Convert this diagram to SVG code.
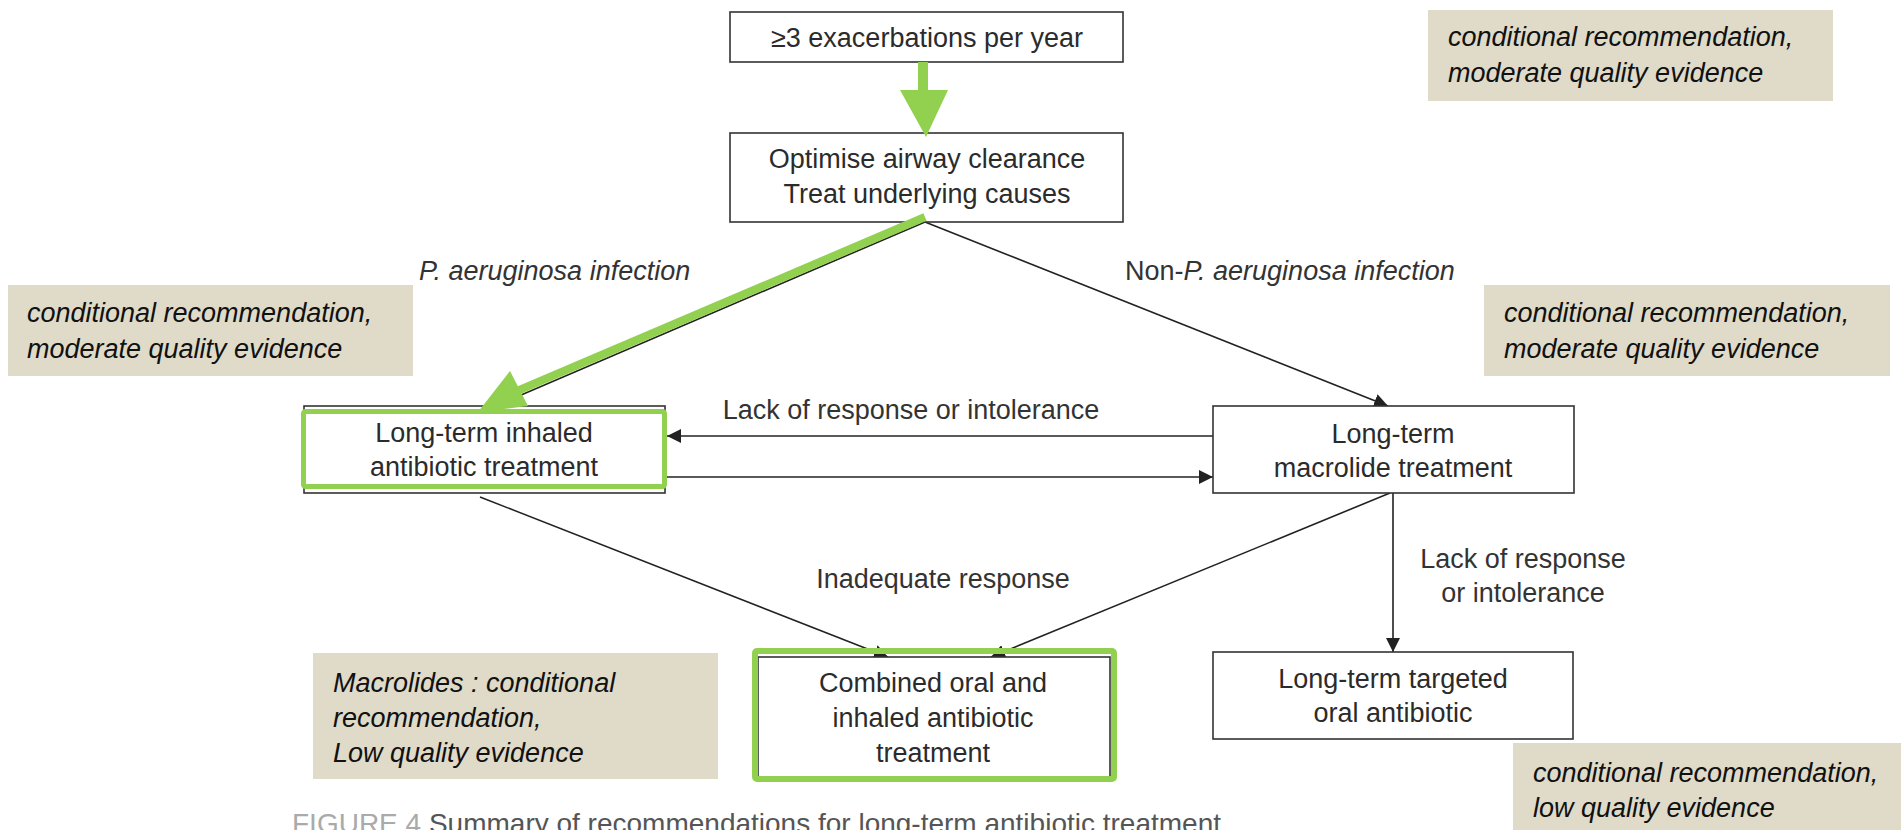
<svg xmlns="http://www.w3.org/2000/svg" width="1901" height="830" viewBox="0 0 1901 830">
<defs>
<style>
.box{fill:#fff;stroke:#333;stroke-width:1.6}
.t{font-family:"Liberation Sans",Arial,sans-serif;font-size:27px;fill:#2b2b2b;text-anchor:middle}
.lbl{font-family:"Liberation Sans",Arial,sans-serif;font-size:27px;fill:#333}
.it{font-style:italic}
.note{fill:#dfdbc8}
.nt{font-family:"Liberation Sans",Arial,sans-serif;font-style:italic;font-size:27px;fill:#111}
.conn{stroke:#222;stroke-width:1.6;fill:none}
.hl{fill:none;stroke:#92d050}
.hlf{fill:#92d050}
.cap{font-family:"Liberation Sans",Arial,sans-serif;font-size:28px;fill:#555}
</style>
<marker id="ah" viewBox="0 0 10 10" refX="10" refY="5" markerWidth="14" markerHeight="14" markerUnits="userSpaceOnUse" orient="auto"><path d="M0,0 L10,5 L0,10 z" fill="#222"/></marker>
</defs>
<rect width="1901" height="830" fill="#fff"/>

<g id="connectors">
<line class="conn" x1="925" y1="222" x2="1388" y2="406" marker-end="url(#ah)"/>
<line class="conn" x1="925" y1="222" x2="500" y2="404"/>
<line class="conn" x1="1213" y1="436" x2="667" y2="436" marker-end="url(#ah)"/>
<line class="conn" x1="665" y1="477" x2="1213" y2="477" marker-end="url(#ah)"/>
<line class="conn" x1="480" y1="497" x2="888" y2="657" marker-end="url(#ah)"/>
<line class="conn" x1="1390" y1="493" x2="991" y2="657" marker-end="url(#ah)"/>
<line class="conn" x1="1393" y1="493" x2="1393" y2="652" marker-end="url(#ah)"/>
</g>

<g id="labels">
<text class="lbl it" x="419" y="280" font-size="26">P. aeruginosa infection</text>
<text class="lbl" x="1125" y="280" font-size="26">Non-<tspan class="it">P. aeruginosa infection</tspan></text>
<text class="lbl" x="911" y="419" text-anchor="middle">Lack of response or intolerance</text>
<text class="lbl" x="943" y="588" text-anchor="middle">Inadequate response</text>
<text class="lbl" x="1523" y="568" text-anchor="middle">Lack of response</text>
<text class="lbl" x="1523" y="602" text-anchor="middle">or intolerance</text>
</g>

<g id="node-exacerbations">
<rect class="box" x="730" y="12" width="393" height="50"/>
<text class="t" x="927" y="47">≥3 exacerbations per year</text>
</g>

<g id="node-optimise">
<rect class="box" x="730" y="133" width="393" height="89"/>
<text class="t" x="927" y="168">Optimise airway clearance</text>
<text class="t" x="927" y="203">Treat underlying causes</text>
</g>

<g id="node-inhaled">
<rect class="box" x="304" y="406" width="361" height="87"/>
<rect class="hl" x="303.5" y="411.5" width="361" height="75" rx="2" stroke-width="5"/>
<text class="t" x="484" y="442">Long-term inhaled</text>
<text class="t" x="484" y="476">antibiotic treatment</text>
</g>

<g id="node-macrolide">
<rect class="box" x="1213" y="406" width="361" height="87"/>
<text class="t" x="1393" y="443">Long-term</text>
<text class="t" x="1393" y="477">macrolide treatment</text>
</g>

<g id="node-combined">
<rect class="box" x="758" y="657" width="352" height="121"/>
<rect class="hl" x="755" y="651" width="359" height="128" rx="2" stroke-width="6"/>
<text class="t" x="933" y="692">Combined oral and</text>
<text class="t" x="933" y="727">inhaled antibiotic</text>
<text class="t" x="933" y="762">treatment</text>
</g>

<g id="node-targeted">
<rect class="box" x="1213" y="652" width="360" height="87"/>
<text class="t" x="1393" y="688">Long-term targeted</text>
<text class="t" x="1393" y="722">oral antibiotic</text>
</g>

<g id="highlight-arrows">
<rect class="hlf" x="918" y="62" width="10" height="29"/>
<polygon class="hlf" points="900,90 948,90 926,137"/>
<line x1="925" y1="217" x2="517" y2="391" stroke="#92d050" stroke-width="8"/>
<polygon class="hlf" points="510,371 478,412 528,406"/>
</g>

<g id="note-top-right">
<rect class="note" x="1428" y="10" width="405" height="91"/>
<text class="nt" x="1448" y="46">conditional recommendation,</text>
<text class="nt" x="1448" y="82">moderate quality evidence</text>
</g>

<g id="note-left">
<rect class="note" x="8" y="285" width="405" height="91"/>
<text class="nt" x="27" y="322">conditional recommendation,</text>
<text class="nt" x="27" y="358">moderate quality evidence</text>
</g>

<g id="note-right">
<rect class="note" x="1484" y="285" width="406" height="91"/>
<text class="nt" x="1504" y="322">conditional recommendation,</text>
<text class="nt" x="1504" y="358">moderate quality evidence</text>
</g>

<g id="note-macrolides">
<rect class="note" x="313" y="653" width="405" height="126"/>
<text class="nt" x="333" y="692">Macrolides : conditional</text>
<text class="nt" x="333" y="727">recommendation,</text>
<text class="nt" x="333" y="762">Low quality evidence</text>
</g>

<g id="note-bottom-right">
<rect class="note" x="1513" y="743" width="388" height="90"/>
<text class="nt" x="1533" y="782">conditional recommendation,</text>
<text class="nt" x="1533" y="817">low quality evidence</text>
</g>

<g id="caption">
<text class="cap" x="292" y="833"><tspan fill="#aaa">FIGURE 4</tspan> Summary of recommendations for long-term antibiotic treatment</text>
</g>
</svg>
